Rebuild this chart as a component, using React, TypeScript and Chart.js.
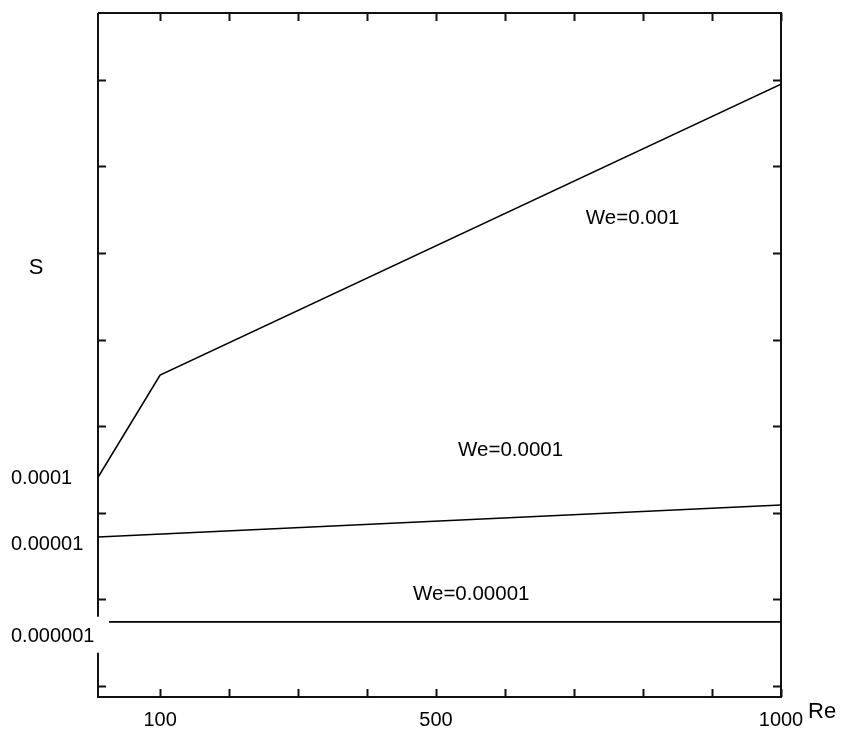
import React, { useEffect, useRef } from 'react';
import { Chart, registerables } from 'chart.js';

Chart.register(...registerables);

// Reynolds number samples for each curve
const reWe001 = [10, 100, 1000];
const reWe0001 = [10, 1000];
const reWe00001 = [26, 1000];

// S level (in tick units of the vertical axis) for each curve
const sWe001 = [2.41, 3.59, 6.95];
const sWe0001 = [1.72, 2.09];
const sWe00001 = [0.74, 0.74];

const seriesNames = ['We=0.001', 'We=0.0001', 'We=0.00001'];
// where each curve's caption sits (Re, S level)
const captionRe = [785, 608, 551];
const captionLevel = [5.4, 2.72, 1.06];

// axis ranges and ticks
const reMin = 10;
const reMax = 1000;
const reTicks = [100, 200, 300, 400, 500, 600, 700, 800, 900, 1000];
const reLabelled = [100, 500, 1000];
const sMin = -0.127;
const sMax = 7.771;
const sTicks = [0, 1, 2, 3, 4, 5, 6, 7];
const sLabelLevels = [0.57, 1.63, 2.4];
const sLabels = ['0.000001', '0.00001', '0.0001'];

const FONT = '"Liberation Sans", Arial, sans-serif';
const INK = '#000000';

const framePlugin = {
  id: 'frameAndCaptions',
  beforeDatasetsDraw(chart: any) {
    const { ctx, chartArea, scales } = chart;
    const { left, right, top, bottom } = chartArea;
    const xs = scales.x;
    const ys = scales.y;
    ctx.save();
    ctx.strokeStyle = '#111111';
    ctx.lineWidth = 2;
    ctx.lineCap = 'butt';
    // left border is broken behind the lowest S label
    const gapMid = ys.getPixelForValue(sLabelLevels[0]);
    const gapTop = gapMid - 20;
    const gapBottom = gapMid + 16;
    ctx.beginPath();
    ctx.moveTo(left, top);
    ctx.lineTo(right, top);
    ctx.lineTo(right, bottom);
    ctx.lineTo(left, bottom);
    ctx.lineTo(left, gapBottom);
    ctx.moveTo(left, gapTop);
    ctx.lineTo(left, top);
    ctx.stroke();

    // inward tick marks on all four sides
    const tl = 8;
    ctx.beginPath();
    reTicks.forEach((v) => {
      const px = Math.round(xs.getPixelForValue(v)) + 0.5;
      ctx.moveTo(px, bottom);
      ctx.lineTo(px, bottom - tl);
      ctx.moveTo(px, top);
      ctx.lineTo(px, top + tl);
    });
    sTicks.forEach((v) => {
      const py = Math.round(ys.getPixelForValue(v)) + 0.5;
      ctx.moveTo(left, py);
      ctx.lineTo(left + tl, py);
      ctx.moveTo(right, py);
      ctx.lineTo(right - tl, py);
    });
    ctx.stroke();
    ctx.restore();
  },
  afterDatasetsDraw(chart: any) {
    const { ctx, chartArea, scales } = chart;
    const xs = scales.x;
    const ys = scales.y;
    ctx.save();
    ctx.fillStyle = INK;
    ctx.font = `20.5px ${FONT}`;
    ctx.textAlign = 'center';
    ctx.textBaseline = 'middle';
    seriesNames.forEach((name, i) => {
      ctx.fillText(name, xs.getPixelForValue(captionRe[i]), ys.getPixelForValue(captionLevel[i]));
    });
    // axis captions
    ctx.font = `22px ${FONT}`;
    ctx.fillText('S', chartArea.left - 62, ys.getPixelForValue(4.83));
    ctx.textAlign = 'left';
    ctx.fillText('Re', chartArea.right + 27, chartArea.bottom + 15);
    ctx.restore();
  },
};

export default function App() {
  const canvasRef = useRef<HTMLCanvasElement>(null);

  useEffect(() => {
    const canvas = canvasRef.current;
    if (!canvas) return;
    const line = (xs: number[], ys: number[]) => xs.map((x, i) => ({ x, y: ys[i] }));
    const chart = new Chart(canvas, {
      type: 'line',
      data: {
        datasets: [
          { label: seriesNames[0], data: line(reWe001, sWe001) },
          { label: seriesNames[1], data: line(reWe0001, sWe0001) },
          { label: seriesNames[2], data: line(reWe00001, sWe00001) },
        ].map((d) => ({
          ...d,
          borderColor: INK,
          backgroundColor: INK,
          borderWidth: 1.6,
          pointRadius: 0,
          tension: 0,
          fill: false,
        })),
      },
      options: {
        animation: false,
        responsive: false,
        events: [],
        layout: { padding: { left: 11, top: 13, right: 69, bottom: 0 } },
        plugins: {
          legend: { display: false },
          tooltip: { enabled: false },
          title: { display: false },
        },
        scales: {
          x: {
            type: 'linear',
            min: reMin,
            max: reMax,
            grid: { display: false, drawTicks: false },
            border: { display: false },
            afterBuildTicks: (scale: any) => {
              scale.ticks = reLabelled.map((v) => ({ value: v }));
            },
            afterFit: (scale: any) => {
              scale.height = 38;
            },
            ticks: {
              autoSkip: false,
              maxRotation: 0,
              padding: 11,
              color: INK,
              font: { family: FONT, size: 20 },
              callback: (v: any) => String(v),
            },
          },
          y: {
            type: 'linear',
            min: sMin,
            max: sMax,
            grid: { display: false, drawTicks: false },
            border: { display: false },
            afterBuildTicks: (scale: any) => {
              scale.ticks = sLabelLevels.map((v) => ({ value: v }));
            },
            afterFit: (scale: any) => {
              scale.width = 87;
            },
            ticks: {
              autoSkip: false,
              crossAlign: 'far',
              padding: 0,
              color: INK,
              font: { family: FONT, size: 20 },
              callback: (_v: any, i: number) => sLabels[i],
            },
          },
        },
      },
      plugins: [framePlugin],
    } as any);
    return () => chart.destroy();
  }, []);

  return (
    <div style={{ position: 'fixed', left: 0, top: 0, width: 850, height: 735, background: '#ffffff' }}>
      <canvas ref={canvasRef} width={850} height={735} />
    </div>
  );
}
